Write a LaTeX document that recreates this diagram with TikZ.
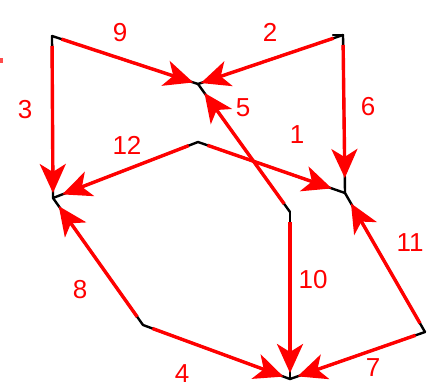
\documentclass[tikz,border=0pt]{standalone}
\usepackage{fontspec}
\setmainfont{Liberation Sans}
\usetikzlibrary{arrows.meta}
\begin{document}
\begin{tikzpicture}[x=1pt,y=-1pt,
  blk/.style={draw=black, line width=2.4pt, line cap=round},
  edg/.style={draw=red, line width=3.4pt, -{Stealth[length=29pt,width=26pt,inset=8pt]}, shorten <=10pt},
  lbl/.style={text=red, font=\fontsize{26}{26}\selectfont, inner sep=0pt}]
\useasboundingbox (0,0) rectangle (427,391);
% vertices
\coordinate (A) at (52,36);
\coordinate (B) at (198,84);
\coordinate (C) at (343,35);
\coordinate (D) at (53,198);
\coordinate (E) at (198,142);
\coordinate (F) at (345,193);
\coordinate (G) at (290,212);
\coordinate (H) at (143,325);
\coordinate (I) at (290,379);
\coordinate (J) at (425,332);
% black base lines
\foreach \u/\v in {A/B, C/B, A/D, C/F, G/B, E/D, E/F, G/I, H/D, H/I, J/I, J/F}
  \draw[blk] (\u) -- (\v);
\draw[blk] (333,35) -- (C);
% red arrows
\draw[edg, shorten >=5pt]  (A) -- (B);
\draw[edg, shorten >=3pt]  (C) -- (B);
\draw[edg, shorten >=5pt]  (A) -- (D);
\draw[edg, shorten >=15pt] (C) -- (F);
\draw[edg, shorten >=11pt] (G) -- (B);
\draw[edg, shorten >=10pt] (E) -- (D);
\draw[edg, shorten >=14pt] (E) -- (F);
\draw[edg, shorten >=6pt]  (G) -- (I);
\draw[edg, shorten >=10pt] (H) -- (D);
\draw[edg, shorten >=7pt]  (H) -- (I);
\draw[edg, shorten >=8pt]  (J) -- (I);
\draw[edg, shorten >=12pt] (J) -- (F);
% stray mark at left edge
\fill[red!70] (0,58) rectangle (2.5,63);
% labels
\node[lbl] (l9)  at (120,33)  {9};
\node[lbl] (l2)  at (270,32)  {2};
\node[lbl] (l3)  at (25,110)  {3};
\node[lbl] (l6)  at (368,107) {6};
\node[lbl] (l5)  at (243,108) {5};
\node[lbl] (l1)  at (297,135) {1};
\node[lbl] (l12) at (127,145) {12};
\node[lbl] (l10) at (313,280) {10};
\node[lbl] (l11) at (410,243) {11};
\node[lbl] (l8)  at (80,290)  {8};
\node[lbl] (l4)  at (182,374) {4};
\node[lbl] (l7)  at (373,368) {7};
\end{tikzpicture}
\end{document}
